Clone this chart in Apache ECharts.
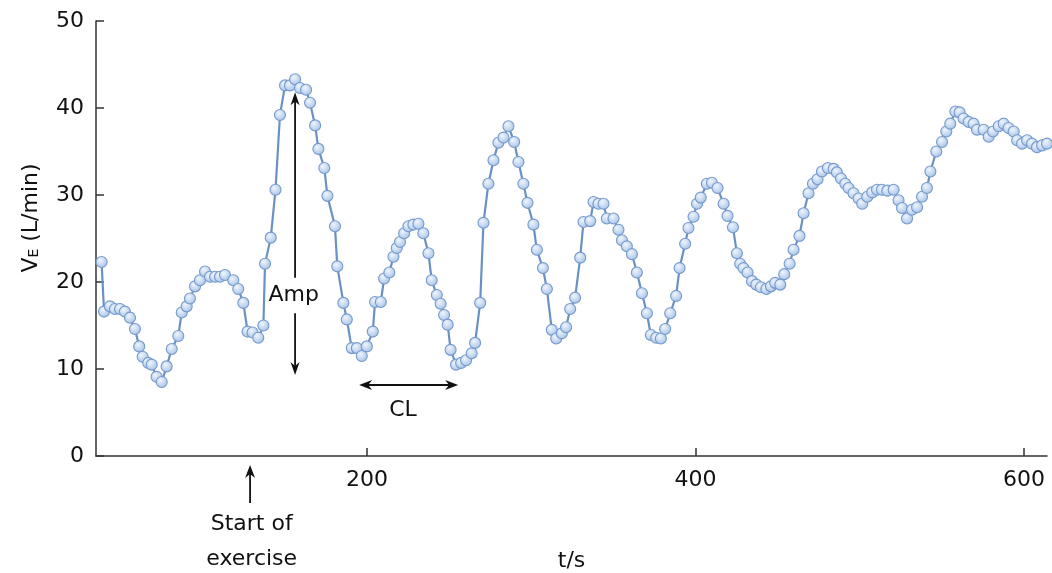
<!DOCTYPE html>
<html>
<head>
<meta charset="utf-8">
<script src="https://cdn.jsdelivr.net/npm/echarts@6.0.0/dist/echarts.min.js"></script>
<style>
  html, body { margin: 0; padding: 0; background: #ffffff; }
  #chart { width: 1052px; height: 573px; }
</style>
</head>
<body>
<div id="chart"></div>
<script>
// Time (s) of each breath
const times = [
  38.4, 39.9, 43.5, 46.5, 49.6, 52.6, 55.7, 58.7, 61.3, 63.4,
  66.8, 68.9, 71.9, 75.0, 78.0, 81.1, 85.1, 87.2, 90.2, 92.2,
  95.3, 98.3, 101.4, 104.4, 107.5, 110.5, 113.5, 118.6, 121.6, 124.7,
  127.3, 130.3, 133.8, 136.9, 137.9, 141.4, 144.3, 147.0, 150.1, 153.1,
  156.2, 159.2, 162.9, 165.3, 168.4, 170.4, 174.0, 175.9, 180.5, 181.9,
  185.6, 187.7, 190.7, 193.8, 196.8, 199.9, 203.5, 204.9, 208.4, 210.4,
  213.6, 216.1, 218.1, 220.1, 222.6, 225.2, 228.2, 231.3, 234.3, 237.4,
  239.4, 242.5, 244.8, 246.9, 249.1, 250.9, 254.2, 257.3, 260.3, 263.7,
  265.8, 268.9, 270.9, 273.9, 277.0, 280.0, 283.1, 286.1, 289.6, 292.2,
  295.2, 297.7, 301.3, 303.4, 307.1, 309.5, 312.5, 315.2, 318.6, 321.2,
  323.7, 326.7, 329.8, 331.8, 335.9, 337.9, 340.9, 344.0, 346.0, 350.1,
  353.1, 355.2, 358.2, 361.3, 364.3, 367.4, 370.4, 372.8, 376.1, 378.9,
  381.5, 384.6, 388.2, 390.3, 393.7, 395.7, 398.8, 400.9, 403.2, 406.9,
  410.0, 413.4, 417.1, 419.5, 422.8, 425.2, 427.2, 429.2, 431.7, 434.4,
  437.0, 439.8, 443.1, 445.9, 448.5, 451.6, 454.0, 457.3, 459.7, 463.3,
  465.8, 468.8, 471.5, 474.3, 477.0, 480.6, 484.1, 486.1, 488.6, 491.2,
  493.2, 496.2, 499.3, 501.5, 504.6, 507.6, 510.5, 513.5, 516.8, 520.6,
  523.6, 525.7, 528.8, 531.8, 534.9, 537.9, 540.9, 543.0, 546.6, 550.1,
  552.7, 555.1, 558.2, 560.8, 563.2, 566.3, 569.3, 571.4, 575.4, 578.5,
  581.1, 584.6, 587.6, 590.6, 593.7, 595.8, 598.8, 601.9, 604.9, 607.9,
  611.0, 614.0
];
// Minute ventilation VE (L/min)
const ve = [
  22.3, 16.6, 17.2, 16.9, 16.9, 16.6, 15.9, 14.6, 12.6, 11.4,
  10.7, 10.5, 9.1, 8.5, 10.3, 12.3, 13.8, 16.5, 17.2, 18.1,
  19.5, 20.2, 21.2, 20.6, 20.6, 20.6, 20.8, 20.2, 19.2, 17.6,
  14.3, 14.2, 13.6, 15.0, 22.1, 25.1, 30.6, 39.2, 42.6, 42.6,
  43.3, 42.3, 42.1, 40.6, 38.0, 35.3, 33.1, 29.9, 26.4, 21.8,
  17.6, 15.7, 12.4, 12.4, 11.5, 12.6, 14.3, 17.7, 17.7, 20.4,
  21.1, 22.9, 23.9, 24.6, 25.6, 26.4, 26.6, 26.7, 25.6, 23.3,
  20.2, 18.5, 17.5, 16.2, 15.1, 12.2, 10.5, 10.7, 11.0, 11.8,
  13.0, 17.6, 26.8, 31.3, 34.0, 36.0, 36.6, 37.9, 36.1, 33.8,
  31.3, 29.1, 26.6, 23.7, 21.6, 19.2, 14.5, 13.5, 14.1, 14.8,
  16.9, 18.2, 22.8, 26.9, 27.0, 29.2, 29.0, 29.0, 27.3, 27.3,
  26.0, 24.8, 24.1, 23.2, 21.1, 18.7, 16.4, 13.9, 13.6, 13.5,
  14.6, 16.4, 18.4, 21.6, 24.4, 26.2, 27.5, 29.0, 29.7, 31.3,
  31.4, 30.8, 29.0, 27.6, 26.3, 23.3, 22.1, 21.6, 21.1, 20.1,
  19.7, 19.4, 19.2, 19.5, 19.9, 19.7, 20.9, 22.1, 23.7, 25.3,
  27.9, 30.2, 31.3, 31.8, 32.7, 33.1, 33.0, 32.6, 31.9, 31.3,
  30.8, 30.2, 29.6, 29.0, 29.8, 30.3, 30.6, 30.6, 30.5, 30.6,
  29.4, 28.5, 27.3, 28.3, 28.6, 29.8, 30.8, 32.7, 35.0, 36.1,
  37.3, 38.2, 39.6, 39.5, 38.8, 38.4, 38.2, 37.5, 37.5, 36.7,
  37.3, 37.9, 38.2, 37.7, 37.3, 36.3, 35.9, 36.3, 35.9, 35.5,
  35.7, 35.9
];
const xTicks = [200, 400, 600];
const yTicks = [0, 10, 20, 30, 40, 50];

const FONT = 'DejaVu Sans';
const TXT = '#111111';
const AX = '#333333';

const chart = echarts.init(document.getElementById('chart'), null, { renderer: 'canvas' });

const option = {
  animation: false,
  backgroundColor: '#ffffff',
  grid: { left: 96, right: 5, top: 21, bottom: 117, outerBoundsMode: 'none' },
  xAxis: {
    type: 'value',
    min: 35,
    max: 614,
    name: 't/s',
    nameLocation: 'middle',
    nameGap: 94,
    nameTextStyle: { fontFamily: FONT, fontSize: 22, color: TXT },
    axisLine: { show: true, lineStyle: { color: AX, width: 1.5 } },
    axisTick: { show: true, inside: true, length: 8, customValues: xTicks, lineStyle: { color: AX, width: 1.5 } },
    axisLabel: { customValues: xTicks, margin: 13, fontFamily: FONT, fontSize: 22, color: TXT },
    splitLine: { show: false }
  },
  yAxis: {
    type: 'value',
    min: 0,
    max: 50,
    interval: 10,
    axisLine: { show: true, lineStyle: { color: AX, width: 1.5 } },
    axisTick: { show: true, inside: true, length: 8, lineStyle: { color: AX, width: 1.5 } },
    axisLabel: { margin: 12, fontFamily: FONT, fontSize: 22, color: TXT },
    splitLine: { show: false }
  },
  series: [{
    type: 'line',
    data: times.map((t, i) => [t, ve[i]]),
    clip: false,
    symbol: 'circle',
    symbolSize: 11,
    showAllSymbol: true,
    lineStyle: { color: '#6a91c4', width: 2.2 },
    itemStyle: {
      color: new echarts.graphic.RadialGradient(0.4, 0.35, 0.7, [
        { offset: 0, color: '#eef5fd' },
        { offset: 1, color: '#a3c0e6' }
      ]),
      borderColor: '#7599cc',
      borderWidth: 1.1
    }
  }]
};
chart.setOption(option);

function P(t, v) { return chart.convertToPixel({ xAxisIndex: 0, yAxisIndex: 0 }, [t, v]); }

function arrowHead(tip, dx, dy, len, w) {
  const nx = -dy, ny = dx;
  return {
    type: 'polygon',
    shape: { points: [
      [tip[0], tip[1]],
      [tip[0] - dx * len + nx * w / 2, tip[1] - dy * len + ny * w / 2],
      [tip[0] - dx * len * 0.7, tip[1] - dy * len * 0.7],
      [tip[0] - dx * len - nx * w / 2, tip[1] - dy * len - ny * w / 2]
    ] },
    style: { fill: '#111' },
    z: 100
  };
}
function seg(a, b) {
  return { type: 'line', shape: { x1: a[0], y1: a[1], x2: b[0], y2: b[1] }, style: { stroke: '#111', lineWidth: 1.8 }, z: 100 };
}
function label(p, txt) {
  return { type: 'text', x: p[0], y: p[1], style: { text: txt, fontFamily: FONT, fontSize: 22, fill: TXT, align: 'center', verticalAlign: 'middle' }, z: 100 };
}

// Amp arrow
const ampTop = P(156.2, 41.8), ampA = P(156.2, 20.5), ampB = P(156.2, 16.4), ampBot = P(156.2, 9.3), ampTxt = P(155.4, 18.5);
// CL arrow
const clL = P(195.2, 8.16), clR = P(255.5, 8.16), clTxt = P(221.9, 5.3);
// Start of exercise arrow
const stTop = P(128.8, -1.03), stBot = P(128.8, -5.4), st1 = P(129.8, -7.9), st2 = P(129.8, -11.9);

const g = [
  seg([ampTop[0], ampTop[1] + 6], ampA), seg(ampB, [ampBot[0], ampBot[1] - 6]),
  arrowHead(ampTop, 0, -1, 13, 9), arrowHead(ampBot, 0, 1, 13, 9),
  label(ampTxt, 'Amp'),
  seg([clL[0] + 6, clL[1]], [clR[0] - 6, clR[1]]),
  arrowHead(clL, -1, 0, 13, 10), arrowHead(clR, 1, 0, 13, 10),
  label(clTxt, 'CL'),
  seg([stTop[0], stTop[1] + 6], stBot),
  arrowHead(stTop, 0, -1, 13, 10),
  label(st1, 'Start of'), label(st2, 'exercise'),
  {
    type: 'text', x: 31, y: 218, rotation: Math.PI / 2,
    style: {
      text: '{v|V}{e|E}{n| (L/min)}',
      align: 'center', verticalAlign: 'middle',
      rich: {
        v: { fontFamily: FONT, fontSize: 22, fill: TXT, verticalAlign: 'bottom' },
        e: { fontFamily: FONT, fontSize: 14, fill: TXT, verticalAlign: 'bottom', padding: [0, 0, 1, 0] },
        n: { fontFamily: FONT, fontSize: 22, fill: TXT, verticalAlign: 'bottom' }
      }
    },
    z: 100
  }
];
chart.setOption({ graphic: g });
</script>
</body>
</html>
